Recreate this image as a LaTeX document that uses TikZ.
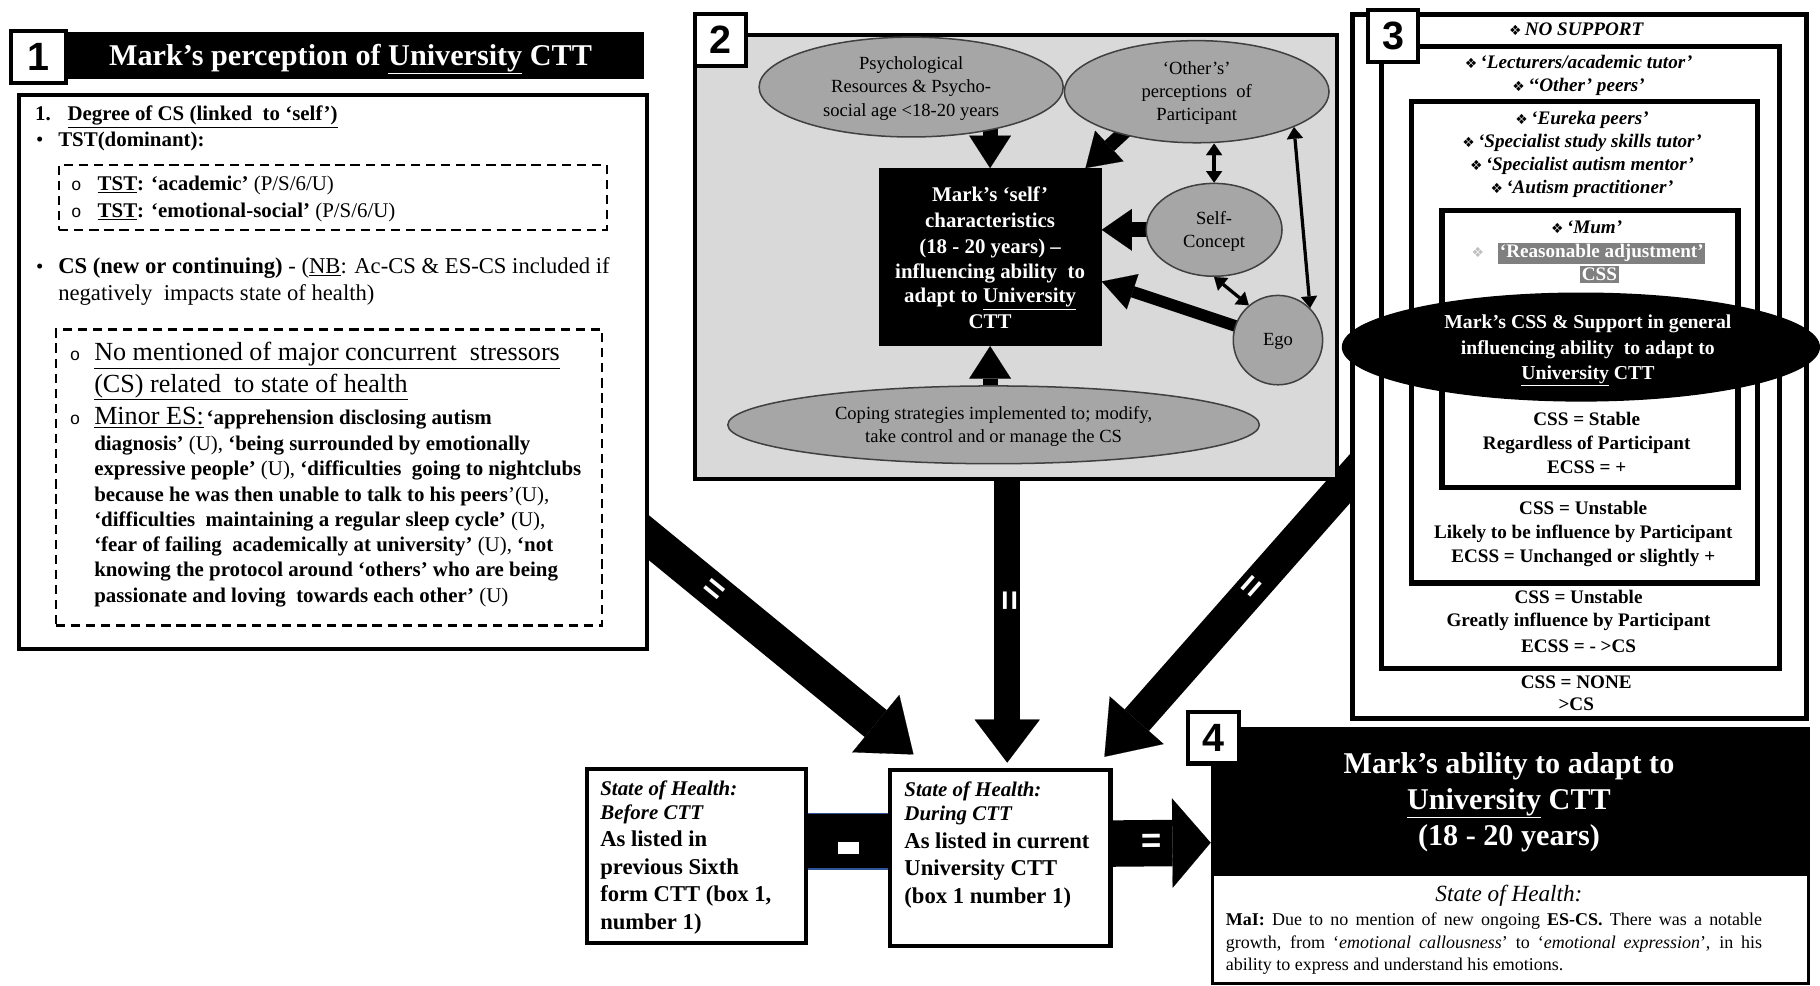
\documentclass[tikz,border=0pt]{standalone}
\usepackage{fontspec}
\setmainfont{Liberation Serif}
\newfontfamily\labfont{Liberation Sans}
\newfontfamily\symfont{DejaVu Sans}
\newfontfamily\monofnt{Liberation Mono}
\usetikzlibrary{arrows.meta,calc,shapes.geometric}
\pgfdeclarelayer{back}
\pgfdeclarelayer{arrowlayer}
\pgfdeclarelayer{front}
\pgfsetlayers{back,arrowlayer,main,front}
\newcommand\fsz[1]{\fontsize{#1}{#1}\selectfont}
\newcommand\dia{{\symfont\fontsize{12}{12}\selectfont\char"2756}\,}
\newcommand\hol{{\monofnt\fsz{15}o}}
\newcommand\bul{{\fsz{18}•}}
\definecolor{boxgray}{HTML}{D9D9D9}
\definecolor{ellgray}{HTML}{A6A6A6}
\definecolor{linkblue}{HTML}{2F5597}
\definecolor{hlgray}{HTML}{808080}
\tikzset{
  boxframe/.style={draw=black, line width=3.5pt, inner sep=0pt, anchor=north west, fill=white},
  numlab/.style={draw=black, fill=white, line width=3.5pt, inner sep=0pt, anchor=north west,
     minimum width=44pt, minimum height=44pt, font=\labfont\bfseries\fsz{34}},
  dashbox/.style={draw=black, line width=1.8pt, dash pattern=on 8pt off 5pt, inner sep=0pt, anchor=north west},
  lt/.style={inner sep=0pt, anchor=base west},
  ct/.style={inner sep=0pt, anchor=base},
  oval/.style={ellipse, draw=black!75, line width=1.3pt, fill=ellgray, inner sep=0pt},
  bigarrow/.style n args={3}{line width=#1, -{Triangle[length=#2,width=#3,line width=0.1pt]}},
  eqmark/.style={text=white, font=\labfont\bfseries\fsz{30}, inner sep=0pt, sloped},
  dbl/.style={line width=2.8pt, {Triangle[length=10pt,width=14pt,line width=0.1pt]}-{Triangle[length=10pt,width=14pt,line width=0.1pt]}},
}
\begin{document}
\begin{tikzpicture}[x=1pt,y=-1pt]
\begin{pgfonlayer}{back}
\fill[white] (0,0) rectangle (1568,849);
\end{pgfonlayer}
\useasboundingbox (0,0) rectangle (1568,849);

% ================= Box 1
\node[boxframe, minimum width=541pt, minimum height=477pt] (b1) at (15,80) {};
\node[fill=black, inner sep=0pt, anchor=north west, minimum width=500pt, minimum height=41pt] (h1) at (55,27) {};
\node[ct, text=white, font=\bfseries\fsz{26}] (h1t) at (302,56) {Mark’s perception of \underline{University} CTT};
\node[numlab, minimum width=47pt, minimum height=45pt] (l1) at (8,25) {1};

\begin{scope}[font=\fsz{18}]
\node[lt] (t1a) at (30,104) {\bfseries 1.};
\node[lt] (t1b) at (58,104) {\bfseries\underline{Degree of CS (linked\ \ to ‘self’)}};
\node[lt] (t1c) at (31,126) {\bul};
\node[lt] (t1d) at (50,126) {\bfseries TST(dominant):};
\node[dashbox, minimum width=472pt, minimum height=56pt] (d1) at (50,141) {};
\node[lt] (t1e) at (61,164) {\hol};
\node[lt] (t1f) at (84,164) {\textbf{\underline{TST}: ‘academic’} (P/S/6/U)};
\node[lt] (t1g) at (61,187) {\hol};
\node[lt] (t1h) at (84,187) {\textbf{\underline{TST}: ‘emotional-social’} (P/S/6/U)};
\end{scope}
\begin{scope}[font=\fsz{19.5}]
\node[lt] (t1i) at (31,236) {\bul};
\node[lt] (t1j) at (50,236) {\textbf{CS (new or continuing)} - (\underline{NB}: Ac-CS \& ES-CS included if};
\node[lt] (t1k) at (50,259) {negatively\ \ impacts state of health)};
\end{scope}
\node[dashbox, minimum width=471pt, minimum height=255pt] (d2) at (47,283) {};
\node[lt] (t1l) at (60,311) {\hol};
\node[lt, font=\fsz{22.5}] (t1m) at (81,311) {\underline{No mentioned of major concurrent\ \ stressors}};
\node[lt, font=\fsz{22.5}] (t1n) at (81,338) {\underline{(CS) related\ \ to state of health}};
\node[lt] (t1o) at (60,366) {\hol};
\node[lt] (t1p) at (81,366) {{\fsz{22.5}\underline{Minor ES:}} {\fsz{18}\bfseries ‘apprehension disclosing autism}};
\begin{scope}[font=\fsz{18}]
\node[lt] (t1q) at (81,388) {\textbf{diagnosis’} (U), \textbf{‘being surrounded by emotionally}};
\node[lt] (t1r) at (81,410) {\textbf{expressive people’} (U), \textbf{‘difficulties\ \ going to nightclubs}};
\node[lt] (t1s) at (81,432) {\textbf{because he was then unable to talk to his peers}’(U),};
\node[lt] (t1t) at (81,454) {\textbf{‘difficulties\ \ maintaining a regular sleep cycle’} (U),};
\node[lt] (t1u) at (81,475) {\textbf{‘fear of failing\ \ academically at university’} (U), \textbf{‘not}};
\node[lt] (t1v) at (81,497) {\textbf{knowing the protocol around ‘others’ who are being}};
\node[lt] (t1w) at (81,519) {\textbf{passionate and loving\ \ towards each other’} (U)};
\end{scope}

% ================= Box 2
\node[draw=black, line width=3.5pt, fill=boxgray, inner sep=0pt, anchor=north west, minimum width=553pt, minimum height=383pt] (b2) at (597,28) {};
\node[numlab, minimum height=45pt] (l2) at (597,10) {2};

\begin{pgfonlayer}{front}
\node[oval, minimum width=262pt, minimum height=86pt] (e1) at (785,75) {};
\node[oval, minimum width=228pt, minimum height=88pt] (e2) at (1031,79) {};
\node[oval, minimum width=117pt, minimum height=80pt] (sc) at (1046,198) {};
\node[oval, minimum width=77pt, minimum height=77pt] (ego) at (1101,293) {};
\node[oval, minimum width=458pt, minimum height=67pt] (cope) at (856,366) {};
\node[fill=black, inner sep=0pt, minimum width=192pt, minimum height=153pt] (self) at (853,221.5) {};
\begin{scope}[font=\fsz{16}]
\node[ct] (e1a) at (785,60) {Psychological};
\node[ct] (e1b) at (785,80) {Resources \& Psycho-};
\node[ct] (e1c) at (785,100) {social age <18-20 years};
\node[ct] (e2a) at (1031,64) {‘Other’s’};
\node[ct] (e2b) at (1031,84) {perceptions\ \ of};
\node[ct] (e2c) at (1031,104) {Participant};
\node[ct] (sca) at (1046,193) {Self-};
\node[ct] (scb) at (1046,213) {Concept};
\node[ct] (egoa) at (1101,298) {Ego};
\node[ct] (copa) at (856,361) {Coping strategies implemented to; modify,};
\node[ct] (copb) at (856,381) {take control and or manage the CS};
\end{scope}
\begin{scope}[font=\bfseries\fsz{18}, text=white]
\node[ct] (s1) at (853,174) {Mark’s ‘self’};
\node[ct] (s2) at (853,196) {characteristics};
\node[ct] (s3) at (853,218) {(18 - 20 years) –};
\node[ct] (s4) at (853,240) {influencing ability\ \ to};
\node[ct] (s5) at (853,261) {adapt to \underline{University}};
\node[ct] (s6) at (853,283) {CTT};
\end{scope}
\end{pgfonlayer}

\draw[bigarrow={13pt}{28pt}{36pt}] (self.north |- e1.center) -- (self.north);
\draw[bigarrow={12pt}{28pt}{36pt}] ($(e2.center)+(-41,15)$) -- ($(self.north east)+(-14,0)$);
\draw[bigarrow={13pt}{26pt}{36pt}] (sc.center) -- (sc.center -| self.east);
\draw[bigarrow={10pt}{28pt}{32pt}] (ego.center) -- ($(self.east)+(0,21)$);
\draw[bigarrow={13pt}{28pt}{36pt}] (self.south |- cope.center) -- (self.south);
\draw[dbl] (sc.north |- e2.south) -- (sc.north);
\draw[dbl] (sc.south) -- (ego.130);
\draw[dbl] (e2.-20) -- (ego.45);

% ================= Box 3
\node[boxframe, line width=4.5pt, minimum width=391pt, minimum height=607pt] (r3a) at (1163,10) {};
\node[boxframe, line width=4.5pt, minimum width=343pt, minimum height=536pt] (r3b) at (1188,38) {};
\node[boxframe, line width=4.5pt, minimum width=298pt, minimum height=415pt] (r3c) at (1214,85) {};
\node[boxframe, line width=4.5pt, minimum width=255pt, minimum height=239pt] (r3d) at (1240,179) {};
\node[ellipse, fill=black, inner sep=0pt, minimum width=412pt, minimum height=94pt] (ce) at (1362,299) {};
\node[numlab, minimum width=43pt, minimum height=45pt] (l3) at (1177,7) {3};
\begin{scope}[font=\bfseries\itshape\fsz{16.5}]
\node[ct] (n0) at (1358,31) {\dia NO SUPPORT};
\node[ct] (n1) at (1360,59) {\dia‘Lecturers/academic tutor’};
\node[ct] (n2) at (1360,79) {\dia‘‘Other’ peers’};
\node[ct] (n3) at (1363,107) {\dia‘Eureka peers’};
\node[ct] (n4) at (1363,127) {\dia‘Specialist study skills tutor’};
\node[ct] (n5) at (1363,147) {\dia‘Specialist autism mentor’};
\node[ct] (n6) at (1363,167) {\dia‘Autism practitioner’};
\node[ct] (n7) at (1367,201) {\dia‘Mum’};
\end{scope}
\node[fill=hlgray, text=white, inner sep=1.5pt, font=\bfseries\fsz{16.5}, anchor=base] (ra) at (1380,222) {‘Reasonable adjustment’};
\node[fill=hlgray, text=white, inner sep=1.5pt, font=\bfseries\fsz{16.5}, anchor=base] (rb) at (1378,242) {CSS};
\node[text=black!25, anchor=base, inner sep=0pt] (rd) at (1274,222) {\dia};
\begin{scope}[font=\bfseries\fsz{17}, text=white]
\node[ct] (c1) at (1368,283) {Mark’s CSS \& Support in general};
\node[ct] (c2) at (1368,305) {influencing ability\ \ to adapt to};
\node[ct] (c3) at (1368,327) {\underline{University} CTT};
\end{scope}
\begin{scope}[font=\bfseries\fsz{16.5}]
\node[ct] (k1) at (1367,367) {CSS = Stable};
\node[ct] (k2) at (1367,387) {Regardless of Participant};
\node[ct] (k3) at (1367,408) {ECSS = +};
\node[ct] (k4) at (1364,443) {CSS = Unstable};
\node[ct] (k5) at (1364,464) {Likely to be influence by Participant};
\node[ct] (k6) at (1364,485) {ECSS = Unchanged or slightly +};
\node[ct] (k7) at (1360,520) {CSS = Unstable};
\node[ct] (k8) at (1360,540) {Greatly influence by Participant};
\node[ct] (k9) at (1360,562) {ECSS = - >CS};
\node[ct] (k10) at (1358,593) {CSS = NONE};
\node[ct] (k11) at (1358,612) {>CS};
\end{scope}

% ================= Box 4
\node[fill=black, draw=black, line width=2pt, inner sep=0pt, anchor=north west, minimum width=514pt, minimum height=126pt] (b4) at (1043,626) {};
\node[boxframe, line width=2.5pt, minimum width=514pt, minimum height=94pt] (b4b) at (1043,752) {};
\node[numlab] (l4) at (1022,612) {4};
\begin{scope}[font=\bfseries\fsz{26}, text=white]
\node[ct] (f1) at (1300,666) {Mark’s ability to adapt to};
\node[ct] (f2) at (1300,697) {\underline{University} CTT};
\node[ct] (f3) at (1300,728) {(18 - 20 years)};
\end{scope}
\node[ct, font=\itshape\fsz{20}] (f4) at (1300,777) {State of Health:};
\begin{scope}[font=\fsz{15.5}]
\node[lt] (f5) at (1056,797) {\makebox[462pt][s]{\textbf{MaI:} Due to no mention of new ongoing \textbf{ES-CS.} There was a notable}};
\node[lt] (f6) at (1056,817) {\makebox[462pt][s]{growth, from ‘\textit{emotional callousness}’ to ‘\textit{emotional expression}’, in his}};
\node[lt] (f7) at (1056,836) {ability to express and understand his emotions.};
\end{scope}

% ================= State of health boxes
\node[boxframe, minimum width=189pt, minimum height=150pt] (sa) at (504,661) {};
\node[boxframe, minimum width=190pt, minimum height=151pt] (sb) at (765,662) {};
\begin{scope}[font=\bfseries\fsz{19.5}]
\node[lt, font=\bfseries\itshape\fsz{18}] (sa1) at (517,685) {State of Health:};
\node[lt, font=\bfseries\itshape\fsz{18}] (sa2) at (517,706) {Before CTT};
\node[lt] (sa3) at (517,729) {As listed in};
\node[lt] (sa4) at (517,753) {previous Sixth};
\node[lt] (sa5) at (517,777) {form CTT (box 1,};
\node[lt] (sa6) at (517,801) {number 1)};
\node[lt, font=\bfseries\itshape\fsz{18}] (sb1) at (779,686) {State of Health:};
\node[lt, font=\bfseries\itshape\fsz{18}] (sb2) at (779,707) {During CTT};
\node[lt] (sb3) at (779,731) {As listed in current};
\node[lt] (sb4) at (779,754) {University CTT};
\node[lt] (sb5) at (779,778) {(box 1 number 1)};
\end{scope}

% ================= Big connectors
\begin{pgfonlayer}{arrowlayer}
\draw[bigarrow={30pt}{42pt}{64pt}] ($(b1.south east)+(-60,-146)$) -- node[eqmark, pos=0.4] {=} ($(sb.north west)+(22,-12)$);
\draw[bigarrow={22pt}{37pt}{56pt}] ($(b2.south)+(-7.5,-20)$) -- node[eqmark, pos=0.47] {=} ($(sb.north)+(6,-5)$);
\draw[bigarrow={28pt}{42pt}{62pt}] ($(r3a.west)+(27,66)$) -- node[eqmark, pos=0.46] {=} ($(sb.north east)+(-7,-10)$);
\draw[line width=48pt] ($(sa.east)+(0,-13)$) -- ($(sb.west)+(0,-14.5)$);
\draw[linkblue, line width=1.2pt] ($(sa.east)+(0,-37)$) -- ($(sb.west)+(0,-38.5)$);
\draw[linkblue, line width=1.2pt] ($(sa.east)+(0,11)$) -- ($(sb.west)+(0,9.5)$);
\node[fill=white, minimum width=18pt, minimum height=11pt, inner sep=0pt] (minus) at ($(sa.east)!0.5!(sb.west)+(0,-8)$) {};
\draw[bigarrow={40pt}{33pt}{77pt}] ($(sb.east)+(0,-12.5)$) -- node[eqmark, pos=0.4] {=} ($(b4.west)+(0,36)$);
\end{pgfonlayer}
\end{tikzpicture}
\end{document}
